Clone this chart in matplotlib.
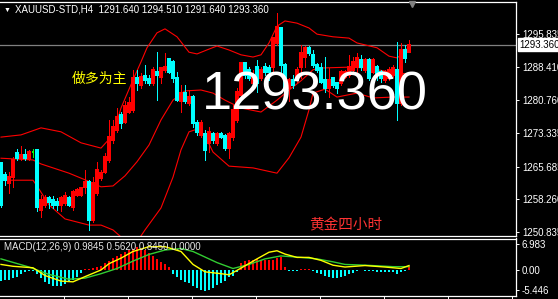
import matplotlib
matplotlib.use("Agg")
import matplotlib.pyplot as plt
from matplotlib.transforms import blended_transform_factory

# XAUUSD-STD H4 candles, oldest first
opens = [1266.4, 1263.8, 1261.9, 1263.4, 1268.7, 1267.6, 1268.3, 1267.4, 1268.9, 1269.5,
         1255.8, 1257.0, 1258.5, 1258.1, 1257.7, 1257.0, 1257.4, 1258.5, 1256.6, 1259.2,
         1259.2, 1261.1, 1262.3, 1253.6, 1259.6, 1263.0, 1264.5, 1267.2, 1271.7, 1274.0,
         1277.4, 1275.9, 1278.2, 1278.6, 1285.8, 1284.2, 1286.3, 1285.5, 1284.6, 1287.3,
         1286.1, 1287.7, 1290.1, 1289.5, 1285.8, 1280.5, 1282.4, 1280.1, 1281.6, 1275.5,
         1272.9, 1273.2, 1271.0, 1273.2, 1271.0, 1273.2, 1272.6, 1269.9, 1272.5, 1276.3,
         1282.0, 1289.2, 1287.7, 1284.6, 1288.4, 1285.8, 1288.4, 1288.1, 1288.4, 1293.7,
         1297.1, 1288.8, 1283.5, 1285.4, 1285.4, 1288.4, 1290.7, 1292.6, 1291.1, 1288.8,
         1288.0, 1285.4, 1283.5, 1285.8, 1284.6, 1284.6, 1286.1, 1286.5, 1287.7, 1288.4,
         1289.9, 1287.7, 1289.9, 1287.3, 1288.4, 1287.3, 1285.4, 1285.8, 1286.5, 1287.7,
         1280.1, 1292.2, 1291.64]
highs = [1266.8, 1264.5, 1264.5, 1267.9, 1269.8, 1270.4, 1269.8, 1269.5, 1269.8, 1269.6,
         1259.2, 1259.2, 1258.9, 1259.0, 1258.5, 1258.9, 1260.0, 1258.9, 1260.4, 1260.8,
         1261.1, 1264.9, 1262.7, 1263.4, 1266.8, 1264.9, 1268.7, 1276.3, 1276.3, 1278.9,
         1278.2, 1280.5, 1281.6, 1287.7, 1287.7, 1286.9, 1288.8, 1286.5, 1288.4, 1291.8,
         1288.4, 1291.5, 1290.3, 1289.9, 1287.3, 1284.2, 1284.2, 1283.1, 1282.0, 1276.3,
         1276.3, 1274.0, 1274.8, 1273.6, 1273.6, 1273.6, 1273.2, 1273.6, 1279.7, 1283.5,
         1289.5, 1289.5, 1288.4, 1287.7, 1289.9, 1288.4, 1289.2, 1288.8, 1295.2, 1300.5,
         1297.5, 1289.2, 1285.8, 1286.5, 1288.4, 1293.3, 1293.0, 1293.0, 1292.2, 1289.2,
         1289.2, 1290.7, 1288.0, 1286.1, 1285.0, 1287.7, 1287.7, 1291.1, 1290.7, 1291.5,
         1291.1, 1290.3, 1290.3, 1290.3, 1288.8, 1287.7, 1287.7, 1288.4, 1288.8, 1294.1,
         1293.7, 1293.3, 1294.51]
lows = [1256.6, 1261.5, 1259.6, 1261.1, 1267.2, 1267.2, 1267.2, 1267.2, 1267.8, 1255.5,
        1254.3, 1256.6, 1256.2, 1256.2, 1255.8, 1255.5, 1257.0, 1256.8, 1255.8, 1258.9,
        1258.9, 1259.6, 1251.3, 1253.2, 1259.2, 1262.6, 1264.2, 1266.8, 1271.0, 1273.6,
        1274.4, 1275.5, 1277.8, 1278.2, 1283.1, 1283.5, 1284.6, 1284.2, 1284.2, 1280.8,
        1284.6, 1287.3, 1286.9, 1285.0, 1280.5, 1278.2, 1280.1, 1279.7, 1274.8, 1272.9,
        1272.5, 1267.2, 1269.1, 1271.0, 1270.6, 1272.1, 1269.5, 1267.6, 1271.7, 1275.9,
        1281.6, 1285.8, 1285.4, 1284.2, 1282.7, 1285.4, 1286.5, 1285.4, 1287.3, 1293.3,
        1286.9, 1282.4, 1280.5, 1283.5, 1285.0, 1285.8, 1288.4, 1291.1, 1288.4, 1287.3,
        1284.6, 1282.7, 1281.6, 1283.9, 1282.4, 1284.2, 1285.8, 1286.1, 1287.3, 1286.5,
        1287.7, 1287.3, 1285.4, 1286.9, 1285.4, 1285.0, 1285.0, 1285.4, 1286.1, 1276.3,
        1279.7, 1289.5, 1291.64]
closes = [1257.0, 1262.6, 1263.4, 1267.2, 1267.6, 1268.3, 1267.6, 1268.9, 1268.9, 1256.6,
          1258.1, 1258.5, 1257.7, 1257.0, 1257.0, 1258.5, 1258.9, 1257.0, 1260.0, 1260.4,
          1260.8, 1262.3, 1253.6, 1261.9, 1264.9, 1264.2, 1267.9, 1272.5, 1274.8, 1277.0,
          1275.5, 1279.5, 1280.1, 1285.8, 1284.6, 1286.1, 1285.4, 1284.6, 1287.7, 1286.5,
          1288.0, 1288.4, 1287.3, 1285.8, 1280.8, 1282.4, 1280.5, 1281.6, 1275.5, 1273.6,
          1275.5, 1269.5, 1273.6, 1271.7, 1273.2, 1272.5, 1269.9, 1273.2, 1278.6, 1282.7,
          1289.2, 1286.5, 1285.8, 1286.5, 1284.6, 1287.7, 1287.3, 1287.2, 1294.9, 1297.5,
          1288.8, 1283.1, 1285.4, 1284.2, 1287.7, 1291.5, 1292.6, 1291.5, 1288.8, 1287.7,
          1285.0, 1283.5, 1285.4, 1284.2, 1283.5, 1287.3, 1287.3, 1288.4, 1289.5, 1290.3,
          1288.4, 1289.9, 1285.8, 1289.9, 1286.9, 1285.8, 1287.3, 1287.7, 1288.0, 1280.1,
          1292.2, 1290.3, 1293.36]

# Bollinger bands (20, 2) read at a few candles
bb_up_idx = [0, 5, 10, 15, 20, 25, 28, 30, 33, 35, 36.5, 39, 41, 44, 47, 49, 52, 54, 57,
             60, 63, 65, 67, 69, 71, 74, 77, 79, 83, 87, 89, 94, 97, 99, 101, 102]
bb_up = [1272.4, 1272.9, 1274.5, 1273.6, 1271.1, 1269.9, 1272.9, 1279.0, 1285.4, 1289.5,
         1292.7, 1296.1, 1297.0, 1295.2, 1291.7, 1291.3, 1292.4, 1293.1, 1292.2, 1291.1,
         1290.6, 1291.1, 1293.8, 1297.6, 1298.8, 1298.3, 1297.2, 1295.8, 1295.2, 1294.9,
         1293.8, 1292.7, 1290.8, 1290.4, 1291.7, 1293.3]
bb_mid_idx = [0, 8, 10, 17, 21, 25, 28, 31, 34, 37, 40, 43, 46, 50, 53, 56, 60, 65, 69,
              72, 75, 78, 80, 87, 92, 97, 102]
bb_mid = [1267.6, 1267.2, 1266.3, 1264.2, 1262.7, 1261.1, 1261.3, 1263.6, 1266.8, 1270.6,
          1276.3, 1280.8, 1282.9, 1283.1, 1282.4, 1280.8, 1279.0, 1278.1, 1280.8, 1283.1,
          1285.2, 1287.7, 1288.1, 1288.3, 1288.1, 1287.2, 1286.7]
bb_low_idx = [0, 8, 9, 12, 16, 22, 25, 28, 30, 32, 34, 36, 40, 43, 45, 47, 49, 51, 53, 57,
              63, 69, 72, 75, 77, 78, 81, 84, 89, 93, 98, 102]
bb_low = [1262.6, 1262.6, 1261.3, 1257.0, 1253.8, 1252.4, 1252.4, 1251.3, 1249.7, 1247.9,
          1248.6, 1251.3, 1256.3, 1263.3, 1269.5, 1273.6, 1274.2, 1272.7, 1269.0, 1265.8,
          1265.4, 1264.2, 1267.7, 1272.4, 1278.6, 1282.4, 1283.3, 1281.5, 1282.4, 1281.3,
          1281.5, 1281.5]

# MACD(12,26,9) histogram, one value per candle
macd_hist = [-3.0, -2.8, -2.6, -2.3, -1.8, -1.2, -0.5, -0.3, -0.3, -1.0,
             -2.3, -3.2, -3.8, -4.2, -4.3, -4.2, -3.8, -3.2, -2.6, -1.8,
             -0.8, 0.2, 0.3, 0.5, 0.8, 1.2, 1.8, 2.5, 3.2, 3.8,
             4.3, 4.8, 5.3, 5.8, 6.1, 5.8, 5.3, 4.6, 3.8, 3.0,
             2.2, 1.5, 0.8, -1.2, -1.9, -2.6, -3.2, -3.6, -4.2, -4.8,
             -5.5, -5.6, -5.4, -4.8, -4.0, -3.4, -3.0, -2.0, -1.5, -0.5,
             1.8, 2.4, 2.8, 2.8, 2.9, 2.8, 2.6, 2.6, 2.8, 3.2,
             3.4, 0.9, -0.2, -0.3, -0.3, 0.2, 0.2, 0.2, -0.3, -0.9,
             -1.2, -1.6, -2.0, -2.2, -2.1, -1.8, -1.5, -1.2, -0.9, -0.3,
             -0.1, -0.2, -0.4, -0.4, -0.5, -0.6, -0.6, -0.6, -0.5, -1.1,
             -0.5, -0.3, 1.2]
macd_idx = [0, 3, 8, 11, 15, 18, 21, 25, 27, 30, 33, 37, 41, 45, 48, 51, 55, 57, 60, 64,
            67, 69, 71, 74, 77, 80, 83, 86, 91, 96, 100, 102]
macd_line = [1.5, 1.0, 0.6, -1.5, -3.0, -3.2, -1.8, 0.0, 1.7, 3.2, 5.0, 6.3, 6.3, 5.0, 1.5,
             -0.5, -1.0, -1.3, 0.5, 3.0, 4.8, 5.2, 4.3, 3.4, 3.4, 2.6, 1.3, 0.8, 1.2, 0.8,
             0.4, 1.2]
signal_idx = [0, 7, 12, 17, 21, 25, 29, 33, 37, 41, 45, 48, 51, 54, 58, 62, 66, 70, 75, 79,
              83, 86, 91, 98, 102]
signal_line = [3.0, 0.8, -1.2, -2.5, -2.2, -1.0, 0.4, 2.4, 4.2, 5.4, 5.8, 5.0, 3.5, 2.0, 0.4,
               1.5, 3.0, 3.8, 3.4, 3.0, 2.2, 1.5, 1.3, 0.9, 0.9]

price_ticks = [1295.835, 1288.410, 1280.760, 1273.335, 1265.685, 1258.260, 1250.835]
macd_ticks = [6.983, 0.0, -5.446]
macd_tick_labels = ["6.983", "0.00", "-5.446"]
last_price = 1293.36

W, H = 558, 299
UP, DOWN, DOJI = "#ff0000", "#00ffff", "#00ff00"
LATIN = ["Liberation Sans", "DejaVu Sans"]
CJK = ["Noto Sans CJK SC", "DejaVu Sans"]

fig = plt.figure(figsize=(W / 100, H / 100), dpi=100, facecolor="black")
ax = fig.add_axes([0, 1 - 236 / H, 516 / W, 234.5 / H], facecolor="black")
ax2 = fig.add_axes([0, 1 - 295.7 / H, 516 / W, 57.2 / H], facecolor="black")

n = len(closes)
idx = list(range(n))
colors = [DOJI if o == c else (UP if c > o else DOWN) for o, c in zip(opens, closes)]

# candles
ax.vlines(idx, lows, highs, colors=colors, lw=0.7, antialiased=False, zorder=3)
ax.bar(idx, [abs(c - o) for o, c in zip(opens, closes)],
       bottom=[min(o, c) for o, c in zip(opens, closes)],
       width=0.55, color=colors, edgecolor=colors, lw=0.3, antialiased=False, zorder=4)

# bollinger bands
for bi, bv in [(bb_up_idx, bb_up), (bb_mid_idx, bb_mid), (bb_low_idx, bb_low)]:
    ax.plot(bi, bv, color="#ff0000", lw=0.8, zorder=2)

ax.axhline(last_price, color="#808080", lw=0.9, zorder=1)

ax.set_xlim(-0.25, 128.75)
ax.set_ylim(1249.92, 1303.22)
ax.yaxis.tick_right()
ax.set_yticks(price_ticks)
ax.set_yticklabels([f"{t:.3f}" for t in price_ticks])
ax.set_xticks([])
ax.tick_params(axis="y", colors="white", labelsize=7, length=2.2, width=0.7, pad=2)
for lab in ax.get_yticklabels():
    lab.set_family(LATIN)
for side in ["top", "right", "bottom"]:
    ax.spines[side].set_color("white")
    ax.spines[side].set_linewidth(0.9)
ax.spines["left"].set_visible(False)

# current price tag
tr = blended_transform_factory(ax.transAxes, ax.transData)
ax.text(1.006, last_price, "1293.360", transform=tr, ha="left", va="center",
        fontsize=7, family=LATIN, color="black", clip_on=False,
        bbox=dict(boxstyle="square,pad=0.15", fc="white", ec="white"))
ax.plot([102.75], [1302.65], marker="v", ms=5, color="#808080", clip_on=False, zorder=5)

# overlay texts
ax.text(17.75, 1285.7, "做多为主", color="#ffff00", fontsize=10, family=CJK,
        ha="left", va="center", zorder=6)
ax.text(77, 1252.3, "黄金四小时", color="#ff3333", fontsize=10.5, family=CJK,
        ha="left", va="center", zorder=6)
ax.text(50.3, 1278.56, "1293.360", color="white", fontsize=39, family=LATIN,
        ha="left", va="baseline", zorder=10)

fig.text(4 / W, 1 - 10 / H, "▼", color="white", fontsize=5, family=LATIN, va="center")
fig.text(15 / W, 1 - 10 / H, "XAUUSD-STD,H4  1291.640 1294.510 1291.640 1293.360",
         color="white", fontsize=7, family=LATIN, va="center")

# MACD panel
hist_colors = [UP if v > 0 else DOWN for v in macd_hist]
ax2.bar(idx, macd_hist, width=0.3, color=hist_colors, lw=0, antialiased=False, zorder=2)
ax2.plot(signal_idx, signal_line, color="#32cd32", lw=1.0, zorder=3)
ax2.plot(macd_idx, macd_line, color="#ffff00", lw=1.0, zorder=4)
ax2.set_xlim(-0.25, 128.75)
ax2.set_ylim(-6.95, 8.51)
ax2.yaxis.tick_right()
ax2.set_yticks(macd_ticks)
ax2.set_yticklabels(macd_tick_labels)
ax2.set_xticks([15.75, 31.75, 47.75, 63.75, 79.75, 95.75, 111.75, 127.75])
ax2.set_xticklabels([])
ax2.tick_params(axis="y", colors="white", labelsize=7, length=2.2, width=0.7, pad=2)
ax2.tick_params(axis="x", colors="white", length=2.5, width=0.7, direction="out")
for lab in ax2.get_yticklabels():
    lab.set_family(LATIN)
for side in ["top", "right", "bottom"]:
    ax2.spines[side].set_color("white")
    ax2.spines[side].set_linewidth(0.9)
ax2.spines["left"].set_visible(False)
ax2.text(4 / 516, 0.86, "MACD(12,26,9) 0.9845 0.5620 0.8450 0.0000", transform=ax2.transAxes,
         color="#e6e6e6", fontsize=7, family=LATIN, va="center", ha="left", zorder=6)

fig.savefig("out.png", dpi=100, facecolor="black")
